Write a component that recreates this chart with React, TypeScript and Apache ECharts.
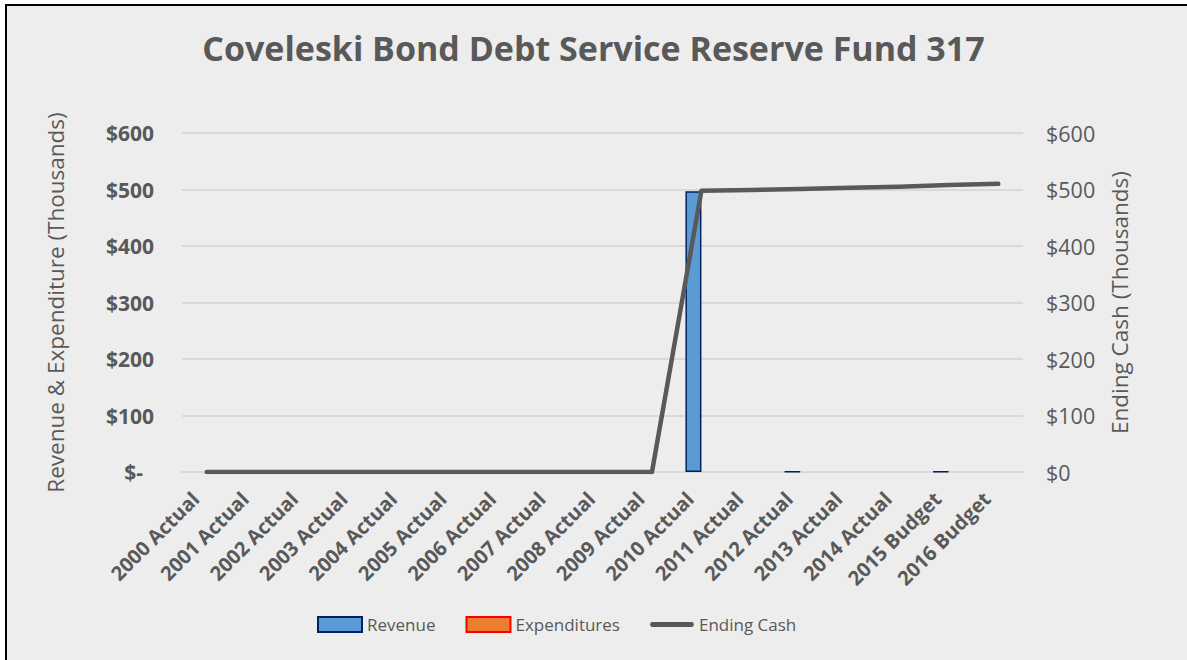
import React, { useEffect, useRef } from "react";
import * as echarts from "echarts";

const categories = [
  "2000 Actual", "2001 Actual", "2002 Actual", "2003 Actual", "2004 Actual",
  "2005 Actual", "2006 Actual", "2007 Actual", "2008 Actual", "2009 Actual",
  "2010 Actual", "2011 Actual", "2012 Actual", "2013 Actual", "2014 Actual",
  "2015 Budget", "2016 Budget",
];
const revenue = [0, 0, 0, 0, 0, 0, 0, 0, 0, 0, 497, 0, 0.5, 0, 0, 1, 0];
const expenditures = [0, 0, 0, 0, 0, 0, 0, 0, 0, 0, 0, 0, 0, 0, 0, 0, 0];
const endingCash = [0, 0, 0, 0, 0, 0, 0, 0, 0, 0, 498, 499, 501, 503, 505, 508, 510];

const TITLE = "Coveleski Bond Debt Service Reserve Fund 317";
const LEFT_NAME = "Revenue & Expenditure (Thousands)";
const RIGHT_NAME = "Ending Cash (Thousands)";
const FONT = "'Open Sans', sans-serif";
const GREY = "#595959";

const hideZero = (arr: number[]) => arr.map((v) => (v === 0 ? null : v));

export default function App() {
  const ref = useRef<HTMLDivElement>(null);
  useEffect(() => {
    document.body.style.margin = "0";
    const chart = echarts.init(ref.current!, undefined, { renderer: "svg" });
    chart.setOption({
      animation: false,
      backgroundColor: "transparent",
      textStyle: { fontFamily: FONT },
      title: {
        text: TITLE,
        left: "center",
        top: 26,
        textStyle: { fontFamily: FONT, fontSize: 34, fontWeight: "bold", color: GREY },
      },
      legend: {
        left: 317,
        top: 616,
        padding: 0,
        itemGap: 30,
        itemWidth: 44,
        itemHeight: 15,
        textStyle: { fontFamily: FONT, fontSize: 17, color: GREY },
        data: [
          { name: "Revenue", icon: "rect" },
          { name: "Expenditures", icon: "rect" },
          { name: "Ending Cash", icon: "path://M2,0 L42,0 A2.5,2.5 0 0 1 42,5 L2,5 A2.5,2.5 0 0 1 2,0 Z" },
        ],
      },
      grid: { left: 182, right: 164, top: 133, bottom: 188 },
      xAxis: {
        type: "category",
        data: categories,
        axisLine: { lineStyle: { color: "#d9d9d9", width: 2 } },
        axisTick: { show: false },
        axisLabel: {
          interval: 0,
          rotate: 45,
          fontFamily: FONT,
          fontSize: 20,
          fontWeight: "bold",
          color: GREY,
          margin: 12,
          padding: [0, 16, 0, 0],
        },
      },
      yAxis: [
        {
          type: "value",
          min: 0,
          max: 600,
          interval: 100,
          name: LEFT_NAME,
          nameLocation: "middle",
          nameGap: 115,
          nameTextStyle: { fontFamily: FONT, fontSize: 22.5, color: GREY },
          axisLine: { show: false },
          axisTick: { show: false },
          splitLine: { lineStyle: { color: "#d9d9d9", width: 2 } },
          axisLabel: {
            fontFamily: FONT,
            fontSize: 21,
            fontWeight: "bold",
            color: GREY,
            margin: 28,
            formatter: (v: number) => (v === 0 ? "$-  " : "$" + v),
          },
        },
        {
          type: "value",
          min: 0,
          max: 600,
          interval: 100,
          name: RIGHT_NAME,
          nameLocation: "middle",
          nameGap: 85,
          nameRotate: 90,
          nameTextStyle: { fontFamily: FONT, fontSize: 22.5, color: GREY },
          axisLine: { show: false },
          axisTick: { show: false },
          splitLine: { show: false },
          axisLabel: {
            fontFamily: FONT,
            fontSize: 21.5,
            color: GREY,
            margin: 23,
            formatter: (v: number) => "$" + v,
          },
        },
      ],
      series: [
        {
          name: "Revenue",
          type: "bar",
          data: hideZero(revenue),
          barWidth: 16,
          barGap: "0%",
          itemStyle: { color: "#5b9bd5", borderColor: "#002060", borderWidth: 1.5 },
        },
        {
          name: "Expenditures",
          type: "bar",
          data: hideZero(expenditures),
          barWidth: 16,
          barGap: "0%",
          itemStyle: { color: "#ed7d31", borderColor: "#ff0000", borderWidth: 1.5 },
        },
        {
          name: "Ending Cash",
          type: "line",
          yAxisIndex: 1,
          data: endingCash,
          symbol: "none",
          z: 5,
          lineStyle: { color: GREY, width: 4.5, cap: "round", join: "round" },
          itemStyle: { color: GREY },
        },
      ],
    });
    return () => chart.dispose();
  }, []);
  return (
    <div style={{ position: "absolute", left: 0, top: 0, width: 1187, height: 660, background: "#fff" }}>
      <div
        style={{
          position: "absolute",
          left: 5,
          top: 4,
          right: 0,
          bottom: 0,
          background: "#ededed",
          borderTop: "2px solid #000",
          borderLeft: "2px solid #000",
        }}
      />
      <div ref={ref} style={{ position: "absolute", left: 0, top: 0, width: 1187, height: 660 }} />
    </div>
  );
}
